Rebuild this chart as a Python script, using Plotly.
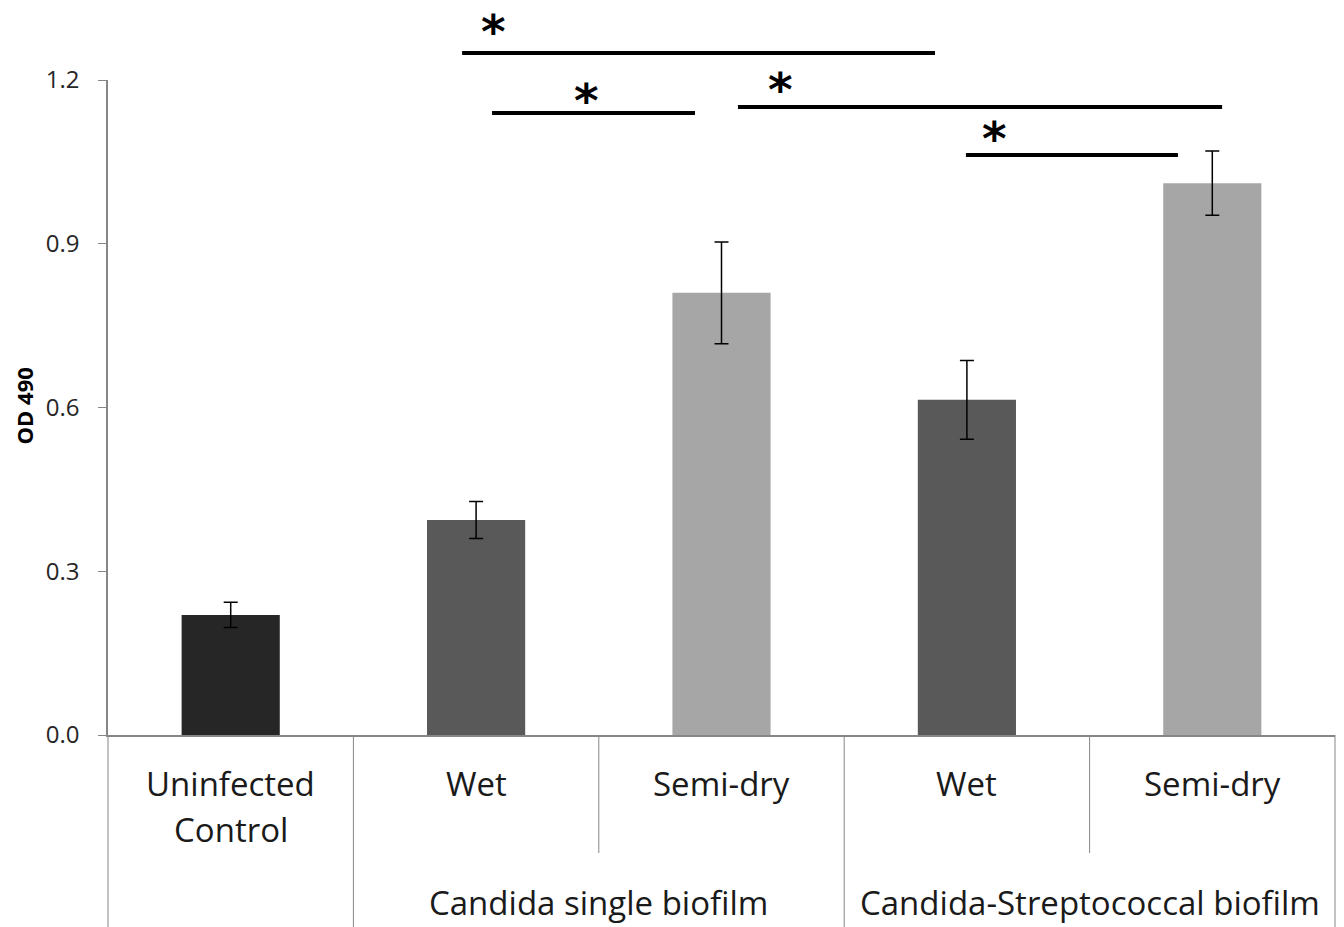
import plotly.graph_objects as go

# ---- data ----
categories = ["Uninfected Control", "Wet", "Semi-dry", "Wet", "Semi-dry"]
cat_label_lines = [["Uninfected", "Control"], ["Wet"], ["Semi-dry"], ["Wet"], ["Semi-dry"]]
values = [0.22, 0.394, 0.810, 0.614, 1.011]
errors = [0.023, 0.034, 0.093, 0.072, 0.059]
bar_colors = ["#262626", "#595959", "#a6a6a6", "#595959", "#a6a6a6"]
groups = ["Candida single biofilm", "Candida-Streptococcal biofilm"]
group_members = [[1, 2], [3, 4]]
y_ticks = [0.0, 0.3, 0.6, 0.9, 1.2]
y_title = "OD 490"

# significance brackets: (x start, x end, y level) in data units, plus star position
sig_x0 = [0.943, 1.065, 2.067, 2.996]
sig_x1 = [2.870, 1.892, 4.040, 3.860]
sig_y = [1.2495, 1.1396, 1.1506, 1.0627]
star_x = [1.069, 1.448, 2.242, 3.114]
star_y = [1.301, 1.176, 1.196, 1.105]

YMAX = 1.2
n = len(categories)
xs = list(range(n))
PLOT_H = 655
PLOT_W = 1227

def px(xv):
    return (xv + 0.5) / n

def py(yv):
    return yv / YMAX

FONT = "Open Sans"

fig = go.Figure()
fig.add_trace(go.Bar(
    x=xs, y=values, width=0.4,
    marker=dict(color=bar_colors, line=dict(width=0)),
    error_y=dict(type="data", array=errors, visible=True, color="black", thickness=1.5, width=7),
    showlegend=False,
))

shapes = []
annotations = []

# significance lines and stars
for x0, x1, yv in zip(sig_x0, sig_x1, sig_y):
    shapes.append(dict(type="line", xref="paper", yref="paper",
                       x0=px(x0), x1=px(x1), y0=py(yv), y1=py(yv),
                       line=dict(color="black", width=4)))
for sx, sy in zip(star_x, star_y):
    annotations.append(dict(x=px(sx), y=py(sy), xref="paper", yref="paper", yshift=-7,
                            text="<b>*</b>", showarrow=False, xanchor="center", yanchor="middle",
                            borderpad=0,
                            font=dict(family="DejaVu Sans", size=47, color="black")))

# category dividers below axis
bottom = -192 / PLOT_H
mid = -(853 - 735) / PLOT_H
for b in range(n + 1):
    bx = b - 0.5
    inner = any(bx == (m[0] + m[1]) / 2 for m in group_members)
    shapes.append(dict(type="line", xref="paper", yref="paper",
                       x0=px(bx), x1=px(bx), y0=0, y1=(mid if inner else bottom),
                       line=dict(color="#868686", width=1)))

# category labels
line_y = [-(783 - 735) / PLOT_H, -(829 - 735) / PLOT_H]
for i, lines in enumerate(cat_label_lines):
    for j, t in enumerate(lines):
        annotations.append(dict(x=px(i), y=line_y[j], xref="paper", yref="paper",
                                text=t, showarrow=False, xanchor="center", yanchor="middle",
                                font=dict(family=FONT, size=33, color="#1a1a1a")))
# group labels
for g, mem in zip(groups, group_members):
    annotations.append(dict(x=px((mem[0] + mem[1]) / 2), y=-(902 - 735) / PLOT_H, xref="paper", yref="paper",
                            text=g, showarrow=False, xanchor="center", yanchor="middle",
                            font=dict(family=FONT, size=33, color="#1a1a1a")))

# y title
annotations.append(dict(x=(24 - 108) / PLOT_W, y=py(0.602), xref="paper", yref="paper",
                        text="<b>" + y_title + "</b>", textangle=-90, showarrow=False,
                        xanchor="center", yanchor="middle",
                        font=dict(family=FONT, size=22, color="black")))

fig.update_layout(
    width=1336, height=919,
    margin=dict(l=100, r=9, t=72, b=192),
    paper_bgcolor="white", plot_bgcolor="white",
    shapes=shapes, annotations=annotations,
    xaxis=dict(range=[-0.5, n - 0.5], showticklabels=False, ticks="", showgrid=False,
               zeroline=False, showline=True, linecolor="#868686", linewidth=1.5),
    yaxis=dict(range=[0, YMAX], tickvals=y_ticks, tickformat=".1f", showgrid=False, zeroline=False,
               showline=True, linecolor="#868686", linewidth=1.5, ticks="outside", ticklen=8,
               tickcolor="#868686", tickwidth=1,
               tickfont=dict(family=FONT, size=24, color="#262626"), ticklabelstandoff=14),
    bargap=0.6,
)

fig.write_html("out.html")
